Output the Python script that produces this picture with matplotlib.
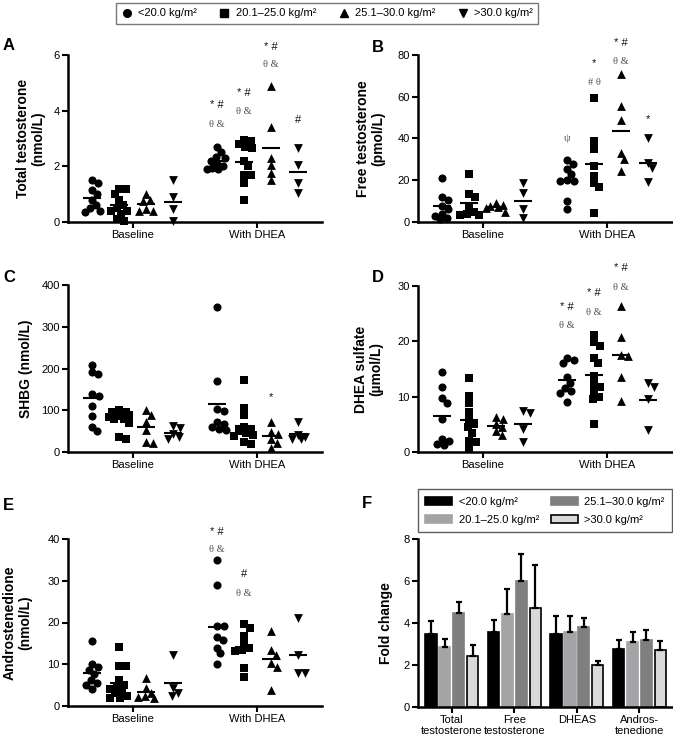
import numpy as np
import matplotlib.pyplot as plt
from matplotlib.lines import Line2D
from matplotlib.patches import Patch

plt.rcParams['font.family'] = ['Liberation Sans', 'DejaVu Sans']

bmi_labels = ['<20.0 kg/m²', '20.1–25.0 kg/m²', '25.1–30.0 kg/m²', '>30.0 kg/m²']
conditions = ['Baseline', 'With DHEA']
markers = ['o', 's', '^', 'v']
msizes = [34, 30, 40, 40]

# A: total testosterone (nmol/L)
tt_base = [[1.5, 1.4, 1.15, 1.0, 0.8, 0.6, 0.5, 0.4, 0.35],
           [1.2, 1.2, 1.0, 0.8, 0.6, 0.5, 0.4, 0.3, 0.1, 0.05, 0.4],
           [1.0, 0.8, 0.75, 0.4, 0.4, 0.45],
           [1.5, 0.9, 0.45, 0.05]]
tt_dhea = [[2.7, 2.5, 2.35, 2.3, 2.2, 2.1, 2.0, 1.95, 1.9, 1.9],
           [2.95, 2.9, 2.8, 2.7, 2.65, 2.2, 2.0, 1.7, 1.7, 1.4, 0.8],
           [4.87, 3.4, 2.3, 2.05, 1.75, 1.5],
           [2.65, 2.05, 1.4, 1.03]]

# B: free testosterone (pmol/L)
ft_base = [[21, 12, 10.5, 7.5, 6, 4, 3, 2, 1.5],
           [23, 13.5, 12, 7, 5, 4, 3.5, 3.5],
           [8, 7.5, 7, 6.5, 5, 9],
           [18.5, 14, 6, 2]]
ft_dhea = [[29.5, 28, 25.5, 23, 20, 19.5, 19.5, 10, 6],
           [59.6, 38.9, 35, 26.6, 21.8, 18.6, 16.6, 4.3],
           [70.9, 55.6, 48.9, 33, 30.1, 24.2],
           [40.2, 28.5, 25.8, 19.4]]

# C: SHBG (nmol/L)
shbg_base = [[209, 192, 186, 138, 135, 110, 86, 60, 50],
             [100, 97, 95, 92, 90, 88, 85, 80, 78, 70, 35, 30],
             [100, 88, 72, 52, 24, 22],
             [63, 58, 42, 35, 32]]
shbg_dhea = [[348, 170, 103, 98, 72, 68, 60, 55, 52],
             [172, 106, 88, 60, 55, 50, 45, 40, 38, 24, 20],
             [73, 48, 43, 30, 22, 10],
             [72, 40, 37, 32, 30]]

# D: DHEA sulfate (umol/L)
dheas_base = [[14.4, 11.8, 9.7, 8.9, 5.9, 2.4, 2.0, 1.5, 1.2],
              [13.3, 10.1, 8.8, 7.2, 5.8, 5.0, 4.5, 3.5, 2.0, 1.8, 0.8],
              [6.3, 6.0, 5.0, 4.5, 3.8, 3.1],
              [7.5, 7.1, 4.2, 1.8]]
dheas_dhea = [[17.0, 16.6, 16.0, 13.5, 12.4, 11.5, 11.0, 10.6, 9.1],
              [21.2, 19.8, 19.1, 17.0, 16.0, 13.8, 12.3, 11.8, 10.8, 10.0, 9.5, 5.1],
              [26.4, 20.8, 17.5, 17.3, 13.5, 9.2],
              [12.4, 11.8, 9.5, 3.9]]

# E: androstenedione (nmol/L)
andro_base = [[15.6, 10.0, 9.4, 8.6, 7.6, 6.2, 5.5, 5.0, 4.0],
              [14.2, 9.7, 9.7, 6.2, 5.0, 4.5, 4.0, 3.5, 3.0, 2.5, 2.0, 2.0],
              [6.6, 4.2, 3.2, 2.2, 1.8, 2.5],
              [12.2, 4.2, 3.2, 2.5]]
andro_dhea = [[34.9, 29.1, 19.1, 19.1, 16.6, 15.8, 14.0, 12.6, 10.0],
              [19.6, 18.7, 16.7, 15.1, 14.0, 13.5, 13.2, 9.2, 7.0],
              [17.9, 13.5, 12.3, 10.2, 9.3, 3.8],
              [21.1, 12.2, 7.8, 7.8]]

# significance marks: (group, y, text, kind)
ann_A = [(0, 4.2, '* #', 's'), (0, 3.52, 'θ &', 'g'),
         (1, 4.62, '* #', 's'), (1, 3.96, 'θ &', 'g'),
         (2, 6.3, '* #', 's'), (2, 5.67, 'θ &', 'g'),
         (3, 3.67, '#', 's')]
ann_B = [(0, 40.2, 'ψ', 'g'),
         (1, 76.3, '*', 's'), (1, 66.8, '# θ', 'g'),
         (2, 85.6, '* #', 's'), (2, 76.8, 'θ &', 'g'),
         (3, 49.2, '*', 's')]
ann_C = [(2, 132, '*', 's')]
ann_D = [(0, 26.25, '* #', 's'), (0, 22.8, 'θ &', 'g'),
         (1, 28.8, '* #', 's'), (1, 25.3, 'θ &', 'g'),
         (2, 33.2, '* #', 's'), (2, 29.75, 'θ &', 'g')]
ann_E = [(0, 41.7, '* #', 's'), (0, 37.5, 'θ &', 'g'),
         (1, 31.6, '#', 's'), (1, 26.9, 'θ &', 'g')]

# F: fold change (mean, SEM) per BMI group, across hormones
hormones = ['Total\ntestosterone', 'Free\ntestosterone', 'DHEAS', 'Andros-\ntenedione']
fold_means = [[3.47, 3.55, 3.46, 2.78],
              [2.86, 4.42, 3.55, 3.10],
              [4.50, 6.02, 3.80, 3.17],
              [2.42, 4.70, 1.98, 2.73]]
fold_sem = [[0.61, 0.59, 0.86, 0.40],
            [0.36, 1.18, 0.77, 0.46],
            [0.52, 1.28, 0.43, 0.49],
            [0.55, 2.05, 0.20, 0.43]]
bar_colors = ['#000000', '#a4a4a7', '#7f7f7f', '#d9d9d9']
bar_edges = ['#000000', '#a4a4a7', '#7f7f7f', '#000000']

W, H = 673, 739
fig = plt.figure(figsize=(W / 100, H / 100), dpi=100)


def rect(l, r, t, b):
    return [l / W, 1 - b / H, (r - l) / W, (b - t) / H]


def style_axes(ax):
    for s in ['top', 'right']:
        ax.spines[s].set_visible(False)
    for s in ['left', 'bottom']:
        ax.spines[s].set_linewidth(1.8)
    ax.tick_params(direction='out', length=4, width=1.5, labelsize=8, pad=2)


def swarm(vals, xc, px_x, px_y, d=6.5, maxoff=10):
    # spread overlapping points sideways, GraphPad-like
    vals = np.asarray(vals, float)
    xs = np.zeros(len(vals))
    placed = []
    cands = sorted(range(-maxoff, maxoff + 1), key=lambda o: (abs(o), -o))
    for i in np.argsort(vals)[::-1]:
        y = vals[i] * px_y
        best, best_d = 0, -1
        for off in cands:
            dmin = min([np.hypot(off - ox, y - oy) for ox, oy in placed] + [99])
            if dmin >= d:
                best = off
                break
            if dmin > best_d:
                best, best_d = off, dmin
        placed.append((best, y))
        xs[i] = xc + best / px_x
    return xs


cond_x = [0.254, 0.746]
grp_step = 0.106


def scatter_panel(r, base, dhea, ymax, yticks, ylabel, anns, lab_x):
    ax = fig.add_axes(rect(*r))
    style_axes(ax)
    px_x = r[1] - r[0]
    px_y = (r[3] - r[2]) / ymax
    for c, data in enumerate([base, dhea]):
        for g, vals in enumerate(data):
            xc = cond_x[c] + (g - 1.5) * grp_step
            xs = swarm(vals, xc, px_x, px_y)
            ax.scatter(xs, vals, marker=markers[g], s=msizes[g], c='k',
                       linewidths=0, clip_on=False, zorder=3)
            m = np.mean(vals)
            ax.plot([xc - 0.034, xc + 0.034], [m, m], color='k', lw=1.5,
                    zorder=4, solid_capstyle='butt')
    for g, y, txt, kind in anns:
        xc = cond_x[1] + (g - 1.5) * grp_step
        if kind == 's':
            ax.text(xc, y, txt, ha='center', va='center', fontsize=8,
                    color='#111111')
        else:
            ax.text(xc, y, txt, ha='center', va='center', fontsize=7.5,
                    color='#555555', family=['Liberation Serif', 'DejaVu Serif'])
    ax.set_xlim(0, 1)
    ax.set_ylim(0, ymax)
    ax.set_yticks(yticks)
    ax.set_xticks(cond_x)
    ax.set_xticklabels(conditions)
    ax.set_ylabel(ylabel, fontsize=10, fontweight='bold', linespacing=1.1)
    ax.yaxis.set_label_coords(lab_x, 0.5)
    return ax


scatter_panel((68, 322, 55, 222), tt_base, tt_dhea, 6, [0, 2, 4, 6],
              'Total testosterone\n(nmol/L)', ann_A, -0.09)
scatter_panel((418, 672, 55, 222), ft_base, ft_dhea, 80, [0, 20, 40, 60, 80],
              'Free testosterone\n(pmol/L)', ann_B, -0.13)
scatter_panel((68, 322, 285, 452), shbg_base, shbg_dhea, 400, [0, 100, 200, 300, 400],
              'SHBG (nmol/L)', ann_C, -0.138)
scatter_panel((418, 672, 286, 452), dheas_base, dheas_dhea, 30, [0, 10, 20, 30],
              'DHEA sulfate\n(µmol/L)', ann_D, -0.138)
scatter_panel((68, 322, 539, 706), andro_base, andro_dhea, 40, [0, 10, 20, 30, 40],
              'Androstenedione\n(nmol/L)', ann_E, -0.142)

# F: bar chart
axf = fig.add_axes(rect(418, 672, 539, 707))
style_axes(axf)
xg = np.arange(len(hormones))
step, bw = 0.222, 0.18
for g in range(4):
    xs = xg + (g - 1.5) * step
    axf.bar(xs, fold_means[g], width=bw, color=bar_colors[g],
            edgecolor=bar_edges[g], linewidth=1.2, zorder=2)
    axf.errorbar(xs, fold_means[g], yerr=[np.zeros(4), fold_sem[g]], fmt='none',
                 ecolor='k', elinewidth=1.6, capsize=2.5, capthick=1.6, zorder=3)
axf.set_xlim(-0.54, 3.52)
axf.set_ylim(0, 8)
axf.set_yticks([0, 2, 4, 6, 8])
axf.set_xticks(xg)
axf.set_xticklabels(hormones, linespacing=1.1)
axf.set_ylabel('Fold change', fontsize=10, fontweight='bold')
axf.yaxis.set_label_coords(-0.098, 0.5)
fhandles = [Patch(facecolor=bar_colors[g], edgecolor=bar_edges[g], linewidth=1.2)
            for g in range(4)]
axf.legend(fhandles, bmi_labels, loc='lower left', bbox_to_anchor=(0.0, 1.04, 1.0, 0.2),
           mode='expand', ncol=2, fontsize=8, frameon=True, fancybox=False,
           edgecolor='#333333', handlelength=2.4, handleheight=0.8,
           borderaxespad=0, columnspacing=1.0, handletextpad=0.6,
           labelspacing=0.75, borderpad=0.65)

# panel letters
for lab, x, y in [('A', 3, 46), ('B', 372, 47), ('C', 3, 278), ('D', 372, 278),
                  ('E', 3, 505), ('F', 362, 503)]:
    fig.text(x / W, 1 - y / H, lab, fontsize=12, fontweight='bold',
             ha='left', va='center')

# top legend
mhandles = [Line2D([], [], marker=markers[g], ls='', color='k', markersize=5.5)
            for g in range(4)]
fig.legend(mhandles, bmi_labels, loc='center', bbox_to_anchor=(327 / W, 1 - 13.5 / H),
           ncol=4, fontsize=8, frameon=True, fancybox=False, edgecolor='#555555',
           handlelength=1.0, handletextpad=0.5, columnspacing=2.0, borderpad=0.5)

fig.savefig('out.png', dpi=100)
